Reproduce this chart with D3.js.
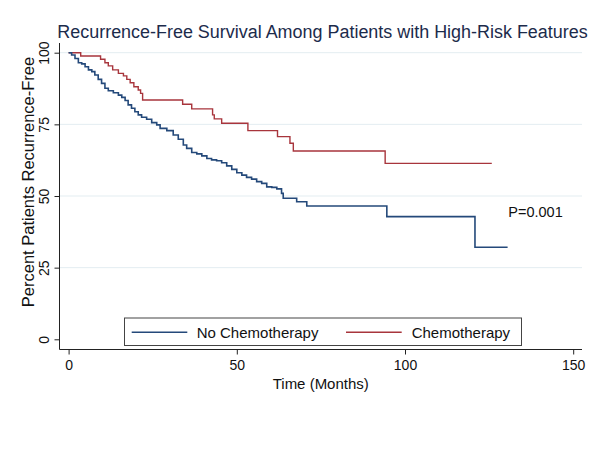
<!DOCTYPE html>
<html>
<head>
<meta charset="utf-8">
<script src="https://cdn.jsdelivr.net/npm/d3@7"></script>
<style>
  html, body { margin: 0; padding: 0; background: #fff; }
  svg { display: block; font-family: "Liberation Sans", Arial, Helvetica, sans-serif; }
</style>
</head>
<body>
<svg id="chart" width="604" height="455"></svg>
<script>
// ---- data ----
const title = "Recurrence-Free Survival Among Patients with High-Risk Features";
const xLabel = "Time (Months)";
const yLabel = "Percent Patients Recurrence-Free";
const xTicks = [0, 50, 100, 150];
const yTicks = [0, 25, 50, 75, 100];
const gridTicks = [25, 50, 75, 100];
const seriesNames = ["No Chemotherapy", "Chemotherapy"];
const pValueText = "P=0.001";

// No Chemotherapy: event times (months) and survival (%) after each step
const noChemoTimes = [0, 0.9, 1.9, 2.9, 3.9, 4.9, 5.9, 6.9, 7.8, 8.8, 9.8, 10.8, 11.8, 13.3, 14.8, 15.8,
  16.8, 17.7, 18.7, 19.7, 20.7, 21.7, 23.2, 24.7, 26.2, 27.2, 29.2, 31.1, 32.6, 34.1, 35.1, 36.6,
  38.1, 39.6, 41.1, 42.5, 44.0, 45.5, 47.0, 48.5, 50.0, 51.5, 52.9, 54.4, 55.9, 57.4, 58.9, 60.4,
  61.9, 63.3, 63.8, 67.8, 70.8, 94.6, 120.8];
const noChemoSurv = [100, 99.2, 98.0, 96.5, 96.1, 95.1, 94.0, 93.4, 92.2, 90.7, 89.3, 87.6, 86.7, 86.0, 85.2, 84.4,
  83.3, 81.8, 80.6, 79.4, 78.3, 77.5, 76.8, 75.6, 74.8, 73.6, 72.8, 71.3, 69.8, 67.8, 66.6, 65.2,
  64.7, 64.0, 63.1, 62.6, 62.3, 61.6, 60.5, 59.3, 58.1, 57.3, 56.5, 55.9, 55.0, 54.4, 53.2, 53.0,
  52.5, 50.9, 49.2, 48.0, 46.5, 42.8, 32.1];
const noChemoEnd = 130.5;

// Chemotherapy
const chemoTimes = [0, 3.6, 9.5, 10.8, 11.8, 13.1, 14.8, 16.3, 17.3, 18.3, 19.4, 20.7, 21.4, 22.0,
  33.9, 36.6, 42.8, 43.3, 45.5, 53.3, 62.1, 65.8, 66.8, 94.1];
const chemoSurv = [100, 98.85, 97.7, 96.5, 95.4, 94.0, 92.8, 91.9, 90.7, 89.5, 88.1, 87.0, 85.8, 83.5,
  82.0, 80.4, 78.3, 76.9, 75.4, 72.8, 70.7, 68.4, 65.7, 61.4];
const chemoEnd = 125.8;

// ---- styles ----
const colBlue = "#24497a";
const colRed = "#a8353c";
const colTitle = "#1c2b4b";
const colGrid = "#e3edf1";

const svg = d3.select("#chart");
const W = 604, H = 455;
svg.append("rect").attr("width", W).attr("height", H).attr("fill", "#fff");

const plotLeft = 59.5, plotRight = 582, plotTop = 43, plotBottom = 349.5;
const x = d3.scaleLinear().domain([0, 150]).range([68.6, 573.2]);
const y = d3.scaleLinear().domain([0, 100]).range([339.3, 52.7]);

// gridlines
svg.append("g").selectAll("line").data(gridTicks).join("line")
  .attr("x1", plotLeft).attr("x2", plotRight)
  .attr("y1", d => y(d)).attr("y2", d => y(d))
  .attr("stroke", colGrid).attr("stroke-width", 1);

// curves
function stepData(times, surv, end) {
  const pts = times.map((t, i) => [t, surv[i]]);
  pts.push([end, surv[surv.length - 1]]);
  return pts;
}
const line = d3.line().x(d => x(d[0])).y(d => y(d[1])).curve(d3.curveStepAfter);
svg.append("path").datum(stepData(chemoTimes, chemoSurv, chemoEnd))
  .attr("d", line).attr("fill", "none").attr("stroke", colRed).attr("stroke-width", 1.4);
svg.append("path").datum(stepData(noChemoTimes, noChemoSurv, noChemoEnd))
  .attr("d", line).attr("fill", "none").attr("stroke", colBlue).attr("stroke-width", 1.6);

// axes
const xAxis = svg.append("g").attr("transform", `translate(0,${plotBottom})`)
  .call(d3.axisBottom(x).tickValues(xTicks).tickSize(5).tickPadding(6).tickFormat(d3.format("d")));
xAxis.select(".domain").attr("d", `M${plotLeft},0H${plotRight}`).attr("stroke", "#222");
xAxis.selectAll(".tick line").attr("stroke", "#222");
xAxis.selectAll(".tick text").attr("font-size", 14).attr("fill", "#111")
  .attr("font-family", "Liberation Sans, Arial, sans-serif");

const yAxis = svg.append("g").attr("transform", `translate(${plotLeft},0)`)
  .call(d3.axisLeft(y).tickValues(yTicks).tickSize(5).tickFormat(d3.format("d")));
yAxis.select(".domain").attr("d", `M0,${plotTop}V${plotBottom}`).attr("stroke", "#222");
yAxis.selectAll(".tick line").attr("stroke", "#222");
yAxis.selectAll(".tick text")
  .attr("font-size", 14).attr("fill", "#111")
  .attr("font-family", "Liberation Sans, Arial, sans-serif")
  .attr("x", null).attr("dy", null)
  .attr("text-anchor", "middle")
  .attr("transform", "translate(-11,0) rotate(-90)");

// axis titles
svg.append("text").attr("x", (plotLeft + plotRight) / 2).attr("y", 389)
  .attr("text-anchor", "middle").attr("font-size", 15).attr("fill", "#111").text(xLabel);
const yt = svg.append("text").attr("transform", `translate(33.5,182) rotate(-90)`)
  .attr("text-anchor", "middle").attr("font-size", 15).attr("fill", "#111").text(yLabel);
const ytw = yt.node().getComputedTextLength();
yt.attr("font-size", Math.min(16.5, 15 * 258 / ytw));

// title
const t = svg.append("text").attr("x", 322.5).attr("y", 38)
  .attr("text-anchor", "middle").attr("font-size", 18).attr("fill", colTitle).text(title);
const tw = t.node().getComputedTextLength();
t.attr("font-size", 18 * 531 / tw);

// p-value
svg.append("text").attr("x", 508.3).attr("y", 217.3)
  .attr("font-size", 14.5).attr("fill", "#111").text(pValueText);

// legend
const lg = svg.append("g");
lg.append("rect").attr("x", 124.5).attr("y", 318).attr("width", 397).attr("height", 27.5)
  .attr("fill", "#fff").attr("stroke", "#444").attr("stroke-width", 1);
const legendItems = [
  { name: seriesNames[0], color: colBlue, x1: 131.7, x2: 187.3, tx: 196.7 },
  { name: seriesNames[1], color: colRed, x1: 346, x2: 401.7, tx: 411.7 }
];
legendItems.forEach(it => {
  lg.append("line").attr("x1", it.x1).attr("x2", it.x2).attr("y1", 332.3).attr("y2", 332.3)
    .attr("stroke", it.color).attr("stroke-width", 1.4);
  lg.append("text").attr("x", it.tx).attr("y", 337.5).attr("font-size", 15).attr("fill", "#111").text(it.name);
});
</script>
</body>
</html>
